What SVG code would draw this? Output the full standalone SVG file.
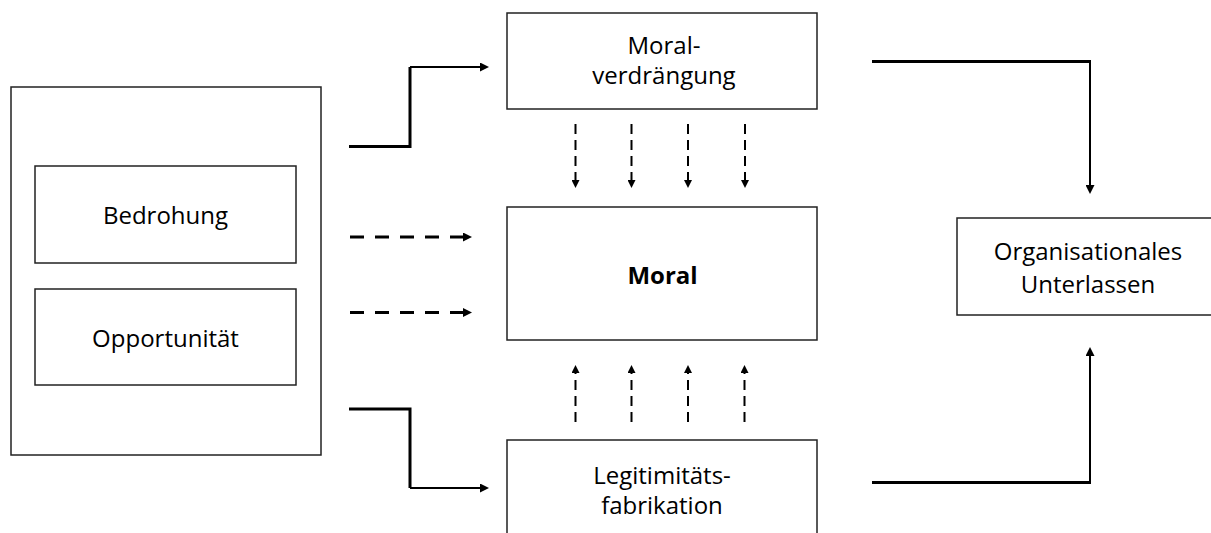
<svg xmlns="http://www.w3.org/2000/svg" width="1211" height="533" viewBox="0 0 1211 533">
<style>
.box{fill:#fff;stroke:#222;stroke-width:1.5}
.t{font-family:"Open Sans","Liberation Sans",sans-serif;font-size:24px;fill:#000;text-anchor:middle}
.b{font-weight:bold}
.thick{fill:none;stroke:#000;stroke-width:3}
.thin{fill:none;stroke:#000;stroke-width:2}
.dh{fill:none;stroke:#000;stroke-width:3;stroke-dasharray:14 11}
.dv{fill:none;stroke:#000;stroke-width:2;stroke-dasharray:10 6}
</style>
<defs>
<marker id="ah" viewBox="0 0 10 10" refX="0" refY="5" markerWidth="10" markerHeight="9" markerUnits="userSpaceOnUse" orient="auto">
<path d="M0,0 L10,5 L0,10 Z" fill="#000"/>
</marker>
<marker id="as" viewBox="0 0 10 10" refX="0" refY="5" markerWidth="8" markerHeight="8" markerUnits="userSpaceOnUse" orient="auto">
<path d="M0,0 L10,5 L0,10 Z" fill="#000"/>
</marker>
</defs>
<rect width="1211" height="533" fill="#fff"/>
<g id="treiber">
<rect class="box" x="11" y="87" width="310" height="368"/>
</g>
<g id="bedrohung">
<rect class="box" x="35" y="166" width="261" height="97"/>
<text class="t" x="165.5" y="224">Bedrohung</text>
</g>
<g id="opportunitaet">
<rect class="box" x="35" y="289" width="261" height="96"/>
<text class="t" x="165.5" y="346.5">Opportunität</text>
</g>
<g id="moralverdraengung">
<rect class="box" x="507" y="13" width="310" height="96"/>
<text class="t" x="664" y="54">Moral-</text>
<text class="t" x="664" y="83.5">verdrängung</text>
</g>
<g id="moral">
<rect class="box" x="507" y="207" width="310" height="133"/>
<text class="t b" x="662.5" y="283.5">Moral</text>
</g>
<g id="legitimitaetsfabrikation">
<rect class="box" x="507" y="440" width="310" height="110"/>
<text class="t" x="662" y="483.5">Legitimitäts-</text>
<text class="t" x="662" y="513.5">fabrikation</text>
</g>
<g id="unterlassen">
<rect class="box" x="957" y="218" width="262" height="97"/>
<text class="t" x="1088" y="260">Organisationales</text>
<text class="t" x="1088" y="292.5">Unterlassen</text>
</g>
<g id="connectors">
<path class="thick" d="M349,146.5 H410 V67"/>
<path class="thin" d="M410,67 H480" marker-end="url(#ah)"/>
<path class="thick" d="M349,409 H410 V488"/>
<path class="thin" d="M410,488 H480" marker-end="url(#ah)"/>
<path class="dh" d="M350,237 H463" marker-end="url(#ah)"/>
<path class="dh" d="M350,312.5 H463" marker-end="url(#ah)"/>
<path class="dv" d="M575.5,124 V180" marker-end="url(#as)"/>
<path class="dv" d="M631.5,124 V180" marker-end="url(#as)"/>
<path class="dv" d="M688,124 V180" marker-end="url(#as)"/>
<path class="dv" d="M745,124 V180" marker-end="url(#as)"/>
<path class="dv" d="M575.5,422 V373" marker-end="url(#as)"/>
<path class="dv" d="M631.5,422 V373" marker-end="url(#as)"/>
<path class="dv" d="M688,422 V373" marker-end="url(#as)"/>
<path class="dv" d="M744.5,422 V373" marker-end="url(#as)"/>
<path class="thick" d="M872,61.5 H1090"/>
<path class="thin" d="M1090,60 V185" marker-end="url(#ah)"/>
<path class="thick" d="M872,482.5 H1090"/>
<path class="thin" d="M1090,484 V356" marker-end="url(#ah)"/>
</g>
</svg>
